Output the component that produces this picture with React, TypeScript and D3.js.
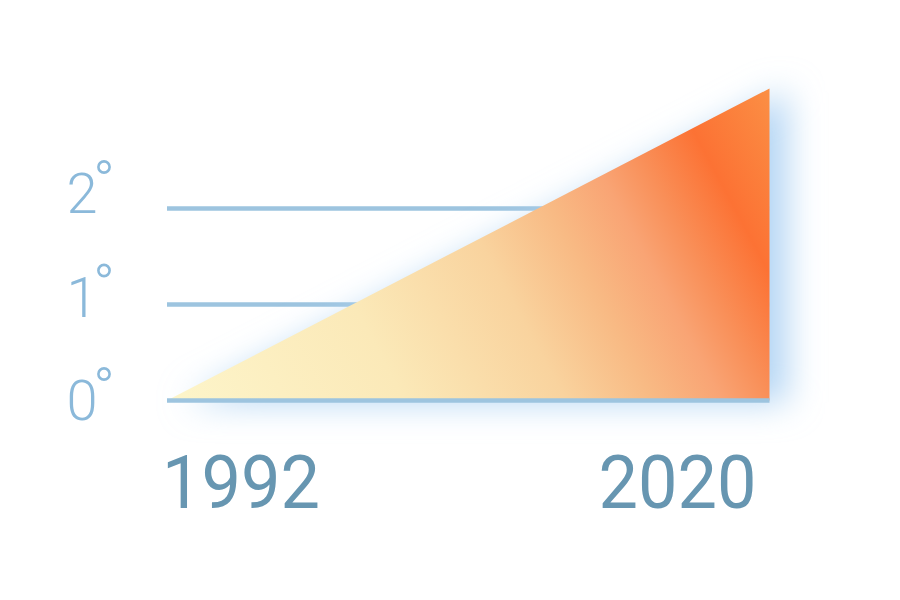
import React from "react";
import * as d3 from "d3";

const years: number[] = [1992, 2020];
const temps: number[] = [0, 3.25];
const gridTicks: number[] = [0, 1, 2];
const yearLabels: string[] = ["1992", "2020"];

const W = 900;
const H = 600;

export default function App() {
  const x = d3.scaleLinear().domain([1992, 2020]).range([167, 769.5]);
  const y = d3.scaleLinear().domain([0, 2]).range([400.5, 208.5]);
  const labelY = d3.scaleLinear().domain([0, 2]).range([420, 213]);

  const pts: [number, number][] = [
    [x(years[0]), y(temps[0])],
    [x(years[1]), y(temps[1])],
    [x(years[1]), y(0)],
  ];
  const area = d3.line()(pts.concat([pts[0]])) + "Z";
  const labelX = [241, 677.5];

  return (
    <svg width={W} height={H} style={{ position: "absolute", left: 0, top: 0, background: "#fff" }}>
      <defs>
        <linearGradient id="warm" gradientUnits="userSpaceOnUse" x1={167} y1={400} x2={763} y2={82}>
          <stop offset="0" stopColor="#fdf5ca" />
          <stop offset="0.31" stopColor="#fbe9b8" />
          <stop offset="0.52" stopColor="#f9d39e" />
          <stop offset="0.635" stopColor="#f8ba84" />
          <stop offset="0.725" stopColor="#f9a474" />
          <stop offset="0.79" stopColor="#f98f58" />
          <stop offset="0.875" stopColor="#fc7234" />
          <stop offset="1" stopColor="#fb8e44" />
        </linearGradient>
        <filter id="glow" x="-20%" y="-30%" width="140%" height="160%">
          <feGaussianBlur stdDeviation="17" />
        </filter>
      </defs>

      {gridTicks.slice(1).map((t) => (
        <line key={t} x1={x(1992)} x2={x(2020)} y1={y(t)} y2={y(t)} stroke="#9dc4df" strokeWidth={4.5} />
      ))}

      <path d={area} fill="#b3d5f4" filter="url(#glow)" transform="translate(18,2)" />
      <path d={area} fill="url(#warm)" />

      <line x1={x(1992)} x2={x(2020)} y1={y(0)} y2={y(0)} stroke="#9dc4df" strokeWidth={4.5} />

      {gridTicks.map((t) => (
        <g key={"l" + t}>
          <text
            x={97.5}
            y={labelY(t)}
            textAnchor="end"
            fontFamily="Roboto"
            fontWeight={300}
            fontSize={56}
            fill="#8bb9da"
          >
            {String(t)}
          </text>
          <circle cx={104} cy={labelY(t) - 46} r={5.6} fill="none" stroke="#8bb9da" strokeWidth={2.6} />
        </g>
      ))}

      {yearLabels.map((lab, i) => (
        <text
          key={lab}
          x={0}
          y={0}
          textAnchor="middle"
          fontFamily="Roboto"
          fontSize={74}
          fill="#6796b1"
          transform={`translate(${labelX[i]},508) scale(0.95,1)`}
        >
          {lab}
        </text>
      ))}
    </svg>
  );
}
